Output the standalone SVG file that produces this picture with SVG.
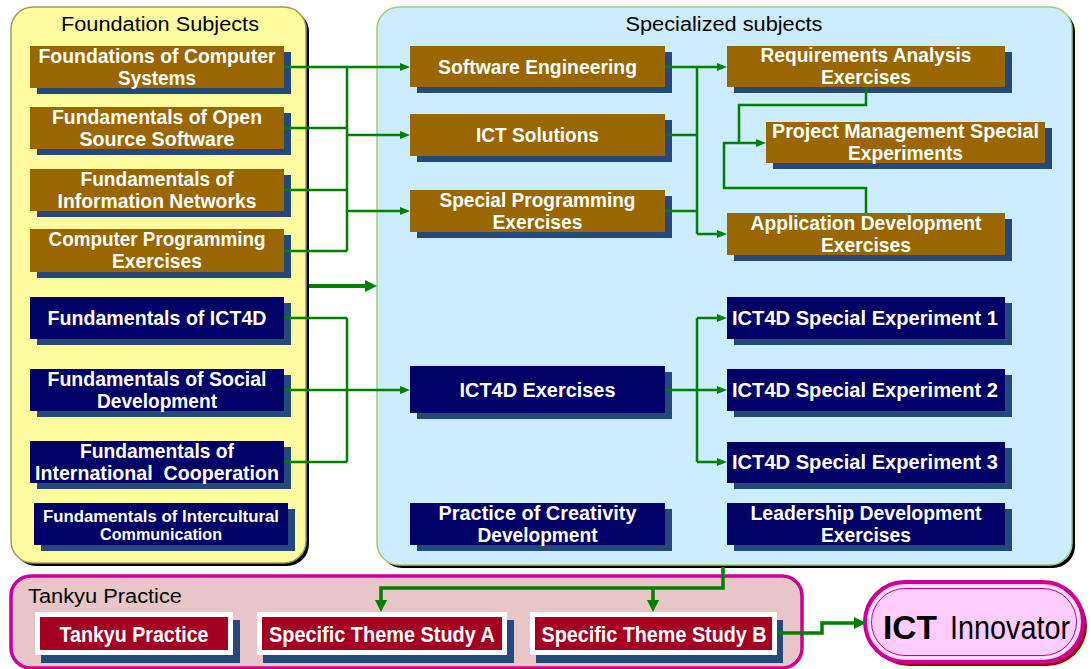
<svg xmlns="http://www.w3.org/2000/svg" width="1091" height="669" viewBox="0 0 1091 669">
<style>
.t{font-family:"Liberation Sans",Arial,sans-serif;font-weight:bold;fill:#fff;text-anchor:middle;font-size:20px}
.s{font-size:16px}
.tk{font-size:22px}
.h{font-family:"Liberation Sans",Arial,sans-serif;fill:#000;font-size:19.5px}
.br{fill:#996600}
.nv{fill:#000066}
.sh{fill:#244A7C}
.rd{fill:#A50021}
.wf{fill:#fff}
.c{fill:none;stroke:#008000;stroke-width:2.5}
.ca{fill:none;stroke:#008000;stroke-width:2.5;marker-end:url(#a)}
.cb{fill:none;stroke:#008000;stroke-width:3.5;marker-end:url(#b)}
.ct{fill:none;stroke:#008000;stroke-width:4;marker-end:url(#b)}
</style>
<defs>
<marker id="a" markerUnits="userSpaceOnUse" markerWidth="10" markerHeight="8" refX="0" refY="4" orient="auto"><path d="M0,0 L10,4 L0,8 z" fill="#008000"/></marker>
<marker id="b" markerUnits="userSpaceOnUse" markerWidth="12" markerHeight="12" refX="0" refY="6" orient="auto"><path d="M0,0 L12,6 L0,12 z" fill="#008000"/></marker>
</defs>
<rect width="1091" height="669" fill="#fff"/>

<!-- panels -->
<g id="panel-foundation">
<rect x="14" y="10" width="295" height="556" rx="22" fill="#000"/>
<rect x="11" y="7" width="295" height="556" rx="22" fill="#FFFB9F" stroke="#9C9C60" stroke-width="1.5"/>
<text class="h" x="160" y="31" text-anchor="middle" textLength="198" lengthAdjust="spacingAndGlyphs">Foundation Subjects</text>
</g>
<g id="panel-specialized">
<rect x="380" y="10" width="695" height="558" rx="22" fill="#000"/>
<rect x="377" y="7" width="695" height="558" rx="22" fill="#CCECFF" stroke="#9FCF72" stroke-width="1.5"/>
<text class="h" x="724" y="31" text-anchor="middle" textLength="197" lengthAdjust="spacingAndGlyphs">Specialized subjects</text>
</g>
<g id="panel-tankyu">
<rect x="11" y="576" width="791" height="92" rx="20" fill="#E8C5C7" stroke="#CC0099" stroke-width="3.5"/>
<text class="h" x="28" y="603" textLength="154" lengthAdjust="spacingAndGlyphs">Tankyu Practice</text>
</g>

<!-- foundation nodes -->
<g id="n-fcs"><rect class="sh" x="37" y="52" width="254" height="42"/><rect class="br" x="30" y="46" width="254" height="42"/>
<text class="t" x="157" y="63" textLength="237" lengthAdjust="spacingAndGlyphs">Foundations of Computer</text><text class="t" x="157" y="85" textLength="78" lengthAdjust="spacingAndGlyphs">Systems</text></g>
<g id="n-foss"><rect class="sh" x="37" y="113" width="254" height="42"/><rect class="br" x="30" y="107" width="254" height="42"/>
<text class="t" x="157" y="124" textLength="210" lengthAdjust="spacingAndGlyphs">Fundamentals of Open</text><text class="t" x="157" y="146" textLength="155" lengthAdjust="spacingAndGlyphs">Source Software</text></g>
<g id="n-fin"><rect class="sh" x="37" y="175" width="254" height="42"/><rect class="br" x="30" y="169" width="254" height="42"/>
<text class="t" x="157" y="186" textLength="153" lengthAdjust="spacingAndGlyphs">Fundamentals of</text><text class="t" x="157" y="208" textLength="199" lengthAdjust="spacingAndGlyphs">Information Networks</text></g>
<g id="n-cpe"><rect class="sh" x="37" y="235" width="254" height="43"/><rect class="br" x="30" y="229" width="254" height="43"/>
<text class="t" x="157" y="246" textLength="217" lengthAdjust="spacingAndGlyphs">Computer Programming</text><text class="t" x="157" y="268" textLength="90" lengthAdjust="spacingAndGlyphs">Exercises</text></g>
<g id="n-fict4d"><rect class="sh" x="37" y="303" width="254" height="42"/><rect class="nv" x="30" y="297" width="254" height="42"/>
<text class="t" x="157" y="325" textLength="219" lengthAdjust="spacingAndGlyphs">Fundamentals of ICT4D</text></g>
<g id="n-fsd"><rect class="sh" x="37" y="375" width="254" height="42"/><rect class="nv" x="30" y="369" width="254" height="42"/>
<text class="t" x="157" y="386" textLength="219" lengthAdjust="spacingAndGlyphs">Fundamentals of Social</text><text class="t" x="157" y="408" textLength="120" lengthAdjust="spacingAndGlyphs">Development</text></g>
<g id="n-fic"><rect class="sh" x="37" y="447" width="254" height="42"/><rect class="nv" x="30" y="441" width="254" height="42"/>
<text class="t" x="157" y="458" textLength="154" lengthAdjust="spacingAndGlyphs">Fundamentals of</text><text class="t" x="157" y="480" textLength="244" lengthAdjust="spacingAndGlyphs" xml:space="preserve">International  Cooperation</text></g>
<g id="n-fcc"><rect class="sh" x="41" y="509" width="254" height="42"/><rect class="nv" x="34" y="503" width="254" height="42"/>
<text class="t s" x="161" y="522" textLength="236" lengthAdjust="spacingAndGlyphs">Fundamentals of Intercultural</text><text class="t s" x="161" y="540" textLength="122" lengthAdjust="spacingAndGlyphs">Communication</text></g>

<!-- specialized column 1 -->
<g id="n-se"><rect class="sh" x="417" y="52" width="255" height="41"/><rect class="br" x="410" y="46" width="255" height="41"/>
<text class="t" x="537.5" y="74" textLength="199" lengthAdjust="spacingAndGlyphs">Software Engineering</text></g>
<g id="n-icts"><rect class="sh" x="417" y="120" width="255" height="42"/><rect class="br" x="410" y="114" width="255" height="42"/>
<text class="t" x="537.5" y="142" textLength="123" lengthAdjust="spacingAndGlyphs">ICT Solutions</text></g>
<g id="n-spe"><rect class="sh" x="417" y="196" width="255" height="42"/><rect class="br" x="410" y="190" width="255" height="42"/>
<text class="t" x="537.5" y="207" textLength="196" lengthAdjust="spacingAndGlyphs">Special Programming</text><text class="t" x="537.5" y="229" textLength="90" lengthAdjust="spacingAndGlyphs">Exercises</text></g>
<g id="n-ict4dex"><rect class="sh" x="417" y="372" width="255" height="47"/><rect class="nv" x="410" y="366" width="255" height="47"/>
<text class="t" x="537.5" y="397" textLength="156" lengthAdjust="spacingAndGlyphs">ICT4D Exercises</text></g>
<g id="n-pcd"><rect class="sh" x="417" y="509" width="255" height="42"/><rect class="nv" x="410" y="503" width="255" height="42"/>
<text class="t" x="537.5" y="520" textLength="198" lengthAdjust="spacingAndGlyphs">Practice of Creativity</text><text class="t" x="537.5" y="542" textLength="120" lengthAdjust="spacingAndGlyphs">Development</text></g>

<!-- specialized column 2 -->
<g id="n-rae"><rect class="sh" x="734" y="52" width="278" height="41"/><rect class="br" x="727" y="46" width="278" height="41"/>
<text class="t" x="866" y="62" textLength="211" lengthAdjust="spacingAndGlyphs">Requirements Analysis</text><text class="t" x="866" y="84" textLength="90" lengthAdjust="spacingAndGlyphs">Exercises</text></g>
<g id="n-pmse"><rect class="sh" x="773" y="128" width="279" height="41"/><rect class="br" x="766" y="122" width="279" height="41"/>
<text class="t" x="905.5" y="138" textLength="267" lengthAdjust="spacingAndGlyphs">Project Management Special</text><text class="t" x="905.5" y="160" textLength="115" lengthAdjust="spacingAndGlyphs">Experiments</text></g>
<g id="n-ade"><rect class="sh" x="734" y="219" width="278" height="42"/><rect class="br" x="727" y="213" width="278" height="42"/>
<text class="t" x="866" y="230" textLength="231" lengthAdjust="spacingAndGlyphs">Application Development</text><text class="t" x="866" y="252" textLength="90" lengthAdjust="spacingAndGlyphs">Exercises</text></g>
<g id="n-se1"><rect class="sh" x="734" y="303" width="278" height="42"/><rect class="nv" x="727" y="297" width="278" height="42"/>
<text class="t" x="865" y="325" textLength="266" lengthAdjust="spacingAndGlyphs">ICT4D Special Experiment 1</text></g>
<g id="n-se2"><rect class="sh" x="734" y="375" width="278" height="42"/><rect class="nv" x="727" y="369" width="278" height="42"/>
<text class="t" x="865" y="397" textLength="266" lengthAdjust="spacingAndGlyphs">ICT4D Special Experiment 2</text></g>
<g id="n-se3"><rect class="sh" x="734" y="448" width="278" height="41"/><rect class="nv" x="727" y="442" width="278" height="41"/>
<text class="t" x="865" y="469" textLength="266" lengthAdjust="spacingAndGlyphs">ICT4D Special Experiment 3</text></g>
<g id="n-lde"><rect class="sh" x="734" y="509" width="278" height="42"/><rect class="nv" x="727" y="503" width="278" height="42"/>
<text class="t" x="866" y="520" textLength="231" lengthAdjust="spacingAndGlyphs">Leadership Development</text><text class="t" x="866" y="542" textLength="90" lengthAdjust="spacingAndGlyphs">Exercises</text></g>

<!-- tankyu nodes -->
<g id="n-tp"><rect class="sh" x="41" y="620" width="199" height="43"/><rect class="wf" x="35" y="612" width="198" height="43"/><rect class="rd" x="40" y="617" width="188" height="33"/>
<text class="t tk" x="134" y="642" textLength="149" lengthAdjust="spacingAndGlyphs">Tankyu Practice</text></g>
<g id="n-tsa"><rect class="sh" x="263" y="620" width="251" height="43"/><rect class="wf" x="257" y="612" width="250" height="43"/><rect class="rd" x="262" y="617" width="240" height="33"/>
<text class="t tk" x="382" y="642" textLength="226" lengthAdjust="spacingAndGlyphs">Specific Theme Study A</text></g>
<g id="n-tsb"><rect class="sh" x="536" y="620" width="247" height="43"/><rect class="wf" x="530" y="612" width="247" height="43"/><rect class="rd" x="535" y="617" width="237" height="33"/>
<text class="t tk" x="654" y="642" textLength="225" lengthAdjust="spacingAndGlyphs">Specific Theme Study B</text></g>

<!-- ICT Innovator -->
<g id="n-innovator">
<rect x="869" y="586" width="218" height="80" rx="40" fill="#A00000"/>
<rect x="865" y="582" width="218" height="80" rx="40" fill="#FFCCFF" stroke="#CC0099" stroke-width="4"/>
<rect x="869.5" y="586.5" width="209" height="71" rx="35.5" fill="none" stroke="#fff" stroke-width="1.2"/>
<rect x="871.5" y="588.5" width="205" height="67" rx="33.5" fill="none" stroke="#CC0099" stroke-width="1"/>
<text x="883" y="639" font-family="Liberation Sans,Arial,sans-serif" font-size="33" fill="#000"><tspan font-weight="bold" textLength="54" lengthAdjust="spacingAndGlyphs">ICT</tspan><tspan x="950" textLength="120" lengthAdjust="spacingAndGlyphs">Innovator</tspan></text>
</g>

<!-- connectors -->
<g id="connectors">
<path class="c" d="M284,67 H347 M284,128 H347 M284,190 H347 M284,251 H347 M347,67 V251"/>
<path class="ca" d="M347,67 H400"/>
<path class="ca" d="M347,135 H400"/>
<path class="ca" d="M347,211 H400"/>
<path class="c" d="M284,318 H347 M284,390 H347 M284,462 H347 M347,318 V462"/>
<path class="ca" d="M347,390 H400"/>
<path class="ct" d="M309,286 H365"/>
<path class="c" d="M665,67 H697 M665,135 H697 M665,211 H697 M697,67 V234"/>
<path class="ca" d="M697,67 H717"/>
<path class="ca" d="M697,234 H717"/>
<path class="c" d="M866,87 V105 H739 V143"/>
<path class="ca" d="M866,213 V188 H724 V143 H756"/>
<path class="c" d="M665,390 H697 M697,318 V462"/>
<path class="ca" d="M697,318 H717"/>
<path class="ca" d="M697,390 H717"/>
<path class="ca" d="M697,462 H717"/>
<path class="cb" d="M723,567 V588 H381 V600"/>
<path class="cb" d="M653,588 V600"/>
<path class="cb" d="M777,633 H822 V623 H854"/>
</g>
</svg>
